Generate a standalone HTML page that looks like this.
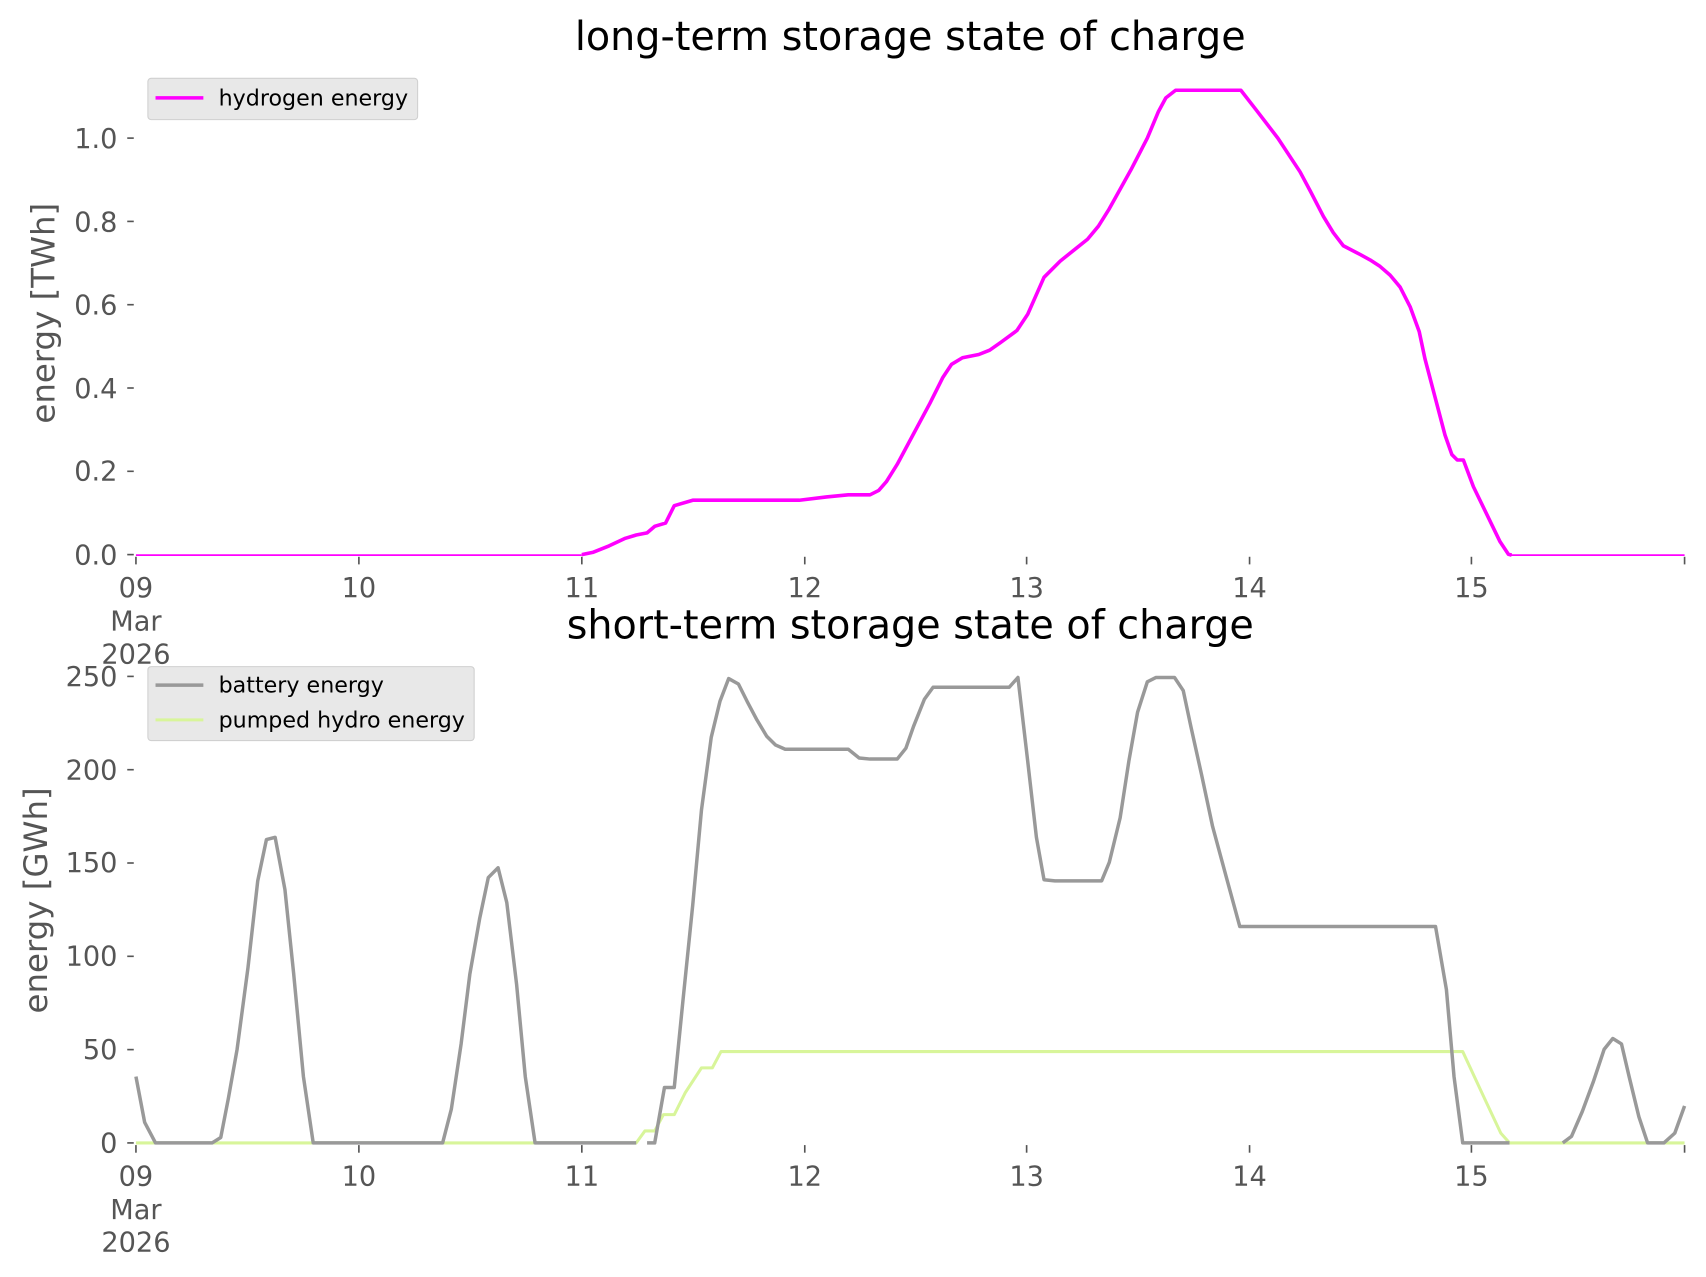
<!DOCTYPE html>
<html><head><meta charset="utf-8"><style>
html,body{margin:0;padding:0;background:#fff;}
svg{display:block;}
text{font-family:"DejaVu Sans","Liberation Sans",sans-serif;}
.t{fill:#555;font-size:25px;}
</style></head><body>
<svg width="1706" height="1277" viewBox="0 0 1568.7 1174.3" preserveAspectRatio="none" xmlns="http://www.w3.org/2000/svg">
<rect width="1568.7" height="1174.3" fill="#fff"/>
<!-- titles -->
<text x="837" y="46" font-size="36.5" text-anchor="middle" fill="#000">long-term storage state of charge</text>
<text x="837" y="587" font-size="36.5" text-anchor="middle" fill="#000">short-term storage state of charge</text>
<!-- y labels -->
<text transform="translate(50,288) rotate(-90)" font-size="29.8" text-anchor="middle" fill="#555">energy [TWh]</text>
<text transform="translate(43,828) rotate(-90)" font-size="29.8" text-anchor="middle" fill="#555">energy [GWh]</text>
<!-- y ticks -->
<g stroke="#555" stroke-width="1.5">
<line x1="117" y1="510" x2="123" y2="510"/><line x1="117" y1="433.4" x2="123" y2="433.4"/>
<line x1="117" y1="356.8" x2="123" y2="356.8"/><line x1="117" y1="280.2" x2="123" y2="280.2"/>
<line x1="117" y1="203.6" x2="123" y2="203.6"/><line x1="117" y1="127" x2="123" y2="127"/>
<line x1="117" y1="1051" x2="123" y2="1051"/><line x1="117" y1="965.2" x2="123" y2="965.2"/>
<line x1="117" y1="879.4" x2="123" y2="879.4"/><line x1="117" y1="793.6" x2="123" y2="793.6"/>
<line x1="117" y1="707.8" x2="123" y2="707.8"/><line x1="117" y1="622" x2="123" y2="622"/>
</g>
<g class="t" text-anchor="end">
<text x="108" y="519">0.0</text><text x="108" y="442">0.2</text><text x="108" y="366">0.4</text>
<text x="108" y="289">0.6</text><text x="108" y="213">0.8</text><text x="108" y="136">1.0</text>
<text x="108" y="1060">0</text><text x="108" y="974">50</text><text x="108" y="888">100</text>
<text x="108" y="802">150</text><text x="108" y="717">200</text><text x="108" y="631">250</text>
</g>
<!-- x ticks -->
<g stroke="#555" stroke-width="1.5">
<line x1="125" y1="512" x2="125" y2="519"/><line x1="330" y1="512" x2="330" y2="519"/><line x1="535" y1="512" x2="535" y2="519"/><line x1="740" y1="512" x2="740" y2="519"/><line x1="944" y1="512" x2="944" y2="519"/><line x1="1149" y1="512" x2="1149" y2="519"/><line x1="1353" y1="512" x2="1353" y2="519"/><line x1="1549" y1="512" x2="1549" y2="519"/>
<line x1="125" y1="1053" x2="125" y2="1060"/><line x1="330" y1="1053" x2="330" y2="1060"/><line x1="535" y1="1053" x2="535" y2="1060"/><line x1="740" y1="1053" x2="740" y2="1060"/><line x1="944" y1="1053" x2="944" y2="1060"/><line x1="1149" y1="1053" x2="1149" y2="1060"/><line x1="1353" y1="1053" x2="1353" y2="1060"/><line x1="1549" y1="1053" x2="1549" y2="1060"/>
</g>
<g class="t" text-anchor="middle">
<text x="125" y="549">09</text><text x="125" y="580">Mar</text><text x="125" y="610">2026</text>
<text x="330" y="549">10</text><text x="535" y="549">11</text><text x="740" y="549">12</text><text x="944" y="549">13</text><text x="1149" y="549">14</text><text x="1353" y="549">15</text>
<text x="125" y="1090">09</text><text x="125" y="1121">Mar</text><text x="125" y="1151">2026</text>
<text x="330" y="1090">10</text><text x="535" y="1090">11</text><text x="740" y="1090">12</text><text x="944" y="1090">13</text><text x="1149" y="1090">14</text><text x="1353" y="1090">15</text>
</g>
<!-- hydrogen -->
<polyline fill="none" stroke="#ff00ff" stroke-width="1.6" points="125,510.5 535,510.5"/>
<polyline fill="none" stroke="#ff00ff" stroke-width="3.3" stroke-linejoin="round" points="535,510 545,508 560,502 575,495 585,492 595,490 602,484 612,481 620,465 637,460 735,460 760,457 780,455 800,455 808,451 815,443 825,427 840,399 855,371 867,347 875,335 885,329 900,326 910,322 920,315 935,304 945,289 960,255 975,240 990,228 1000,220 1010,208 1020,192 1040,156 1055,127 1065,103 1072,90 1081,83 1141,83 1155,101 1175,127 1195.4,158 1205,176 1216.9,199 1226,214 1235.2,226 1250.6,234 1259.8,239 1269,245 1278.2,253 1287.4,264 1296.6,282 1305,305 1310.3,330 1319.5,365 1328.7,400 1335,418 1340,423 1345.6,423 1354.8,447.5 1379.3,498.1 1387,509.7 1390,510.5"/>
<polyline fill="none" stroke="#ff00ff" stroke-width="1.6" points="1388,510.5 1549,510.5"/>
<!-- pumped hydro -->
<polyline fill="none" stroke="#d8f59a" stroke-width="2.8" stroke-linejoin="round" points="125,1051 585,1051 593,1040 602,1040 610,1025 620,1025 630,1005 645,982 655,982 663,967 1345,967 1365,1010 1380,1042 1388,1051 1549,1051"/>
<!-- battery -->
<polyline fill="none" stroke="#999" stroke-width="3.2" stroke-linejoin="round" points="125,990 133,1032 143,1051 195,1051 203,1046 210,1010 218,965 228,890 237,810 245,772 253,770 262,818 270,895 279,990 288,1051 407,1051 415,1020 424,960 432,896 441,845 449,807 458,798 466,830 475,905 483,990 492,1051 585,1051"/>
<polyline fill="none" stroke="#999" stroke-width="3.2" stroke-linejoin="round" points="595,1051 602,1051 611,1000 620,1000 628,920 637,832 645,745 654,678 662,645 670,624 679,629 687,645 696,662 705,677 713,685 722,689 780,689 790,697 800,698 825,698 833,688 840,668 850,643 858,632 928,632 936,623 945,700 953,770 960,809 970,810 1013,810 1020,793 1030,752 1038,700 1046,655 1055,627 1063,623 1080,623 1088,635 1095,668 1105,713 1115,760 1128,808 1140,852 1320,852 1330,910 1337,990 1345,1051 1388,1051"/>
<polyline fill="none" stroke="#999" stroke-width="3.2" stroke-linejoin="round" points="1437,1051 1445,1045 1455,1022 1465,995 1475,965 1483,955 1491,960 1498,990 1507,1027 1515,1051 1530,1051 1540,1042 1549,1017"/>
<!-- legends -->
<rect x="136" y="72" width="248" height="38" rx="3" fill="#e8e8e8" stroke="#d0d0d0" stroke-width="1"/>
<line x1="143" y1="90" x2="187" y2="90" stroke="#ff00ff" stroke-width="3.3"/>
<text x="201" y="97" font-size="20.4" fill="#000">hydrogen energy</text>
<rect x="136" y="613" width="300" height="68" rx="3" fill="#e8e8e8" stroke="#d0d0d0" stroke-width="1"/>
<line x1="143" y1="630" x2="187" y2="630" stroke="#999" stroke-width="3.2"/>
<text x="201" y="637" font-size="20.4" fill="#000">battery energy</text>
<line x1="143" y1="662" x2="187" y2="662" stroke="#d8f59a" stroke-width="2.8"/>
<text x="201" y="669" font-size="20.4" fill="#000">pumped hydro energy</text>
</svg>
</body></html>
